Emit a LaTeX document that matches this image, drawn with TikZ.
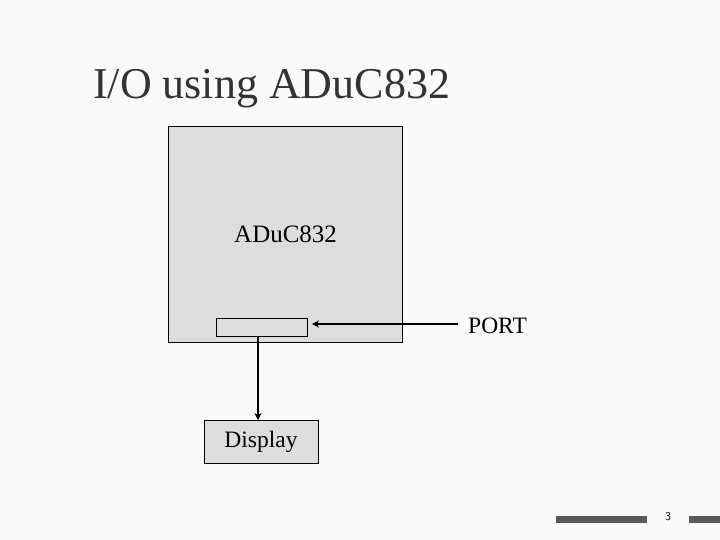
\documentclass[tikz,border=0pt]{standalone}
\usepackage{fontspec}
\setmainfont{Liberation Serif}
\usetikzlibrary{arrows.meta}
\begin{document}
\begin{tikzpicture}[x=1pt,y=-1pt,
  box/.style={draw=black,line width=1pt,fill=boxgray},
  conn/.style={draw=black,line width=2.2pt,-{Stealth[length=7pt,width=7pt]}},
  lbl/.style={font=\fontsize{23.5}{26}\selectfont,inner sep=0pt},
  bar/.style={fill=bargray,draw=none}]
\definecolor{boxgray}{HTML}{DDDDDD}
\definecolor{bargray}{HTML}{595959}
\definecolor{titlegray}{HTML}{333333}
\fill[white!98!black] (0,0) rectangle (720,540);
\useasboundingbox (0,0) rectangle (720,540);
\node[anchor=base west,inner sep=0pt,text=titlegray,font=\fontsize{44}{50}\selectfont] (title) at (93,99) {I/O using ADuC832};
\path[box] (168,127) rectangle (402,342);
\node[anchor=base west,inner sep=0pt,font=\fontsize{25}{28}\selectfont] (chiplbl) at (234,243) {ADuC832};
\node[box,minimum width=91pt,minimum height=18pt,inner sep=0pt] (port) at (261.5,327) {};
\node[lbl,anchor=base west] (portlbl) at (468,333) {PORT};
\coordinate (pstart) at (458,324);
\draw[conn] (pstart) -- (312,324);
\draw[conn] (port.south -| 258,0) -- (258,420);
\node[box,minimum width=114pt,minimum height=43pt,inner sep=0pt,font=\fontsize{23.5}{26}\selectfont] (disp) at (261,441.5) {Display};
\path[bar] (556,516) rectangle (647,523);
\path[bar] (689,516) rectangle (720,523);
\node[font=\sffamily\fontsize{12}{14}\selectfont,inner sep=0pt] (pnum) at (668,517) {3};
\end{tikzpicture}
\end{document}
